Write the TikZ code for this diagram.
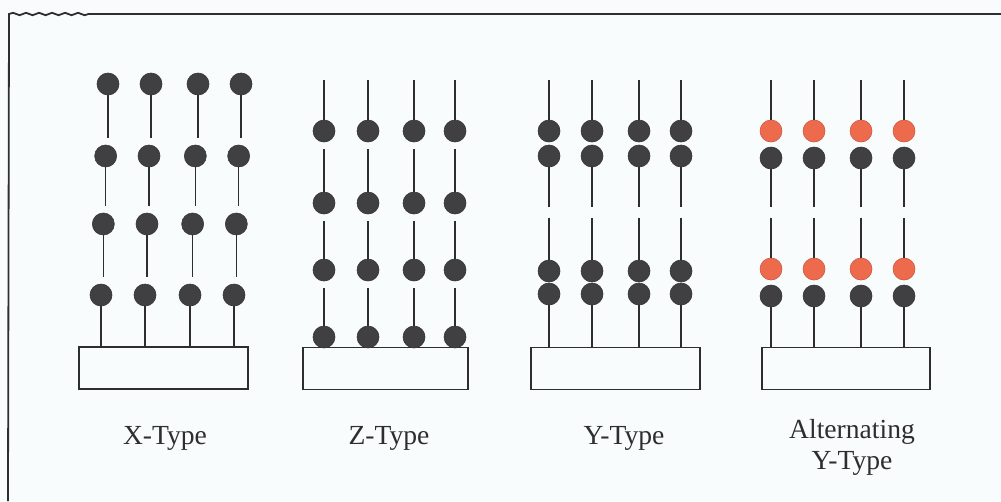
\documentclass[tikz,border=0pt]{standalone}
\usepackage{fontspec}
\setmainfont{Liberation Serif}
\usetikzlibrary{calc,decorations.pathmorphing}
\definecolor{beadgray}{HTML}{404043}
\definecolor{beadred}{HTML}{EE6A4D}
\definecolor{paper}{HTML}{F9FCFD}
\definecolor{ink}{HTML}{2E2E30}
\tikzset{
  bead/.style={circle, fill=beadgray, draw=beadgray!85!black, line width=0.6pt,
               minimum size=22pt, inner sep=0pt},
  redbead/.style={bead, fill=beadred, draw=beadred!85!black},
  substrate/.style={draw=ink, line width=1.4pt, fill=paper, inner sep=0pt,
                    minimum height=42pt},
  chain/.style={draw=ink, line width=1.3pt},
  caption/.style={font=\fontsize{27.6}{31}\selectfont, text=ink, align=center},
  framing/.style={draw=ink, line width=1.8pt}
}
\begin{document}
\begin{tikzpicture}[x=1pt,y=-1pt]
\useasboundingbox (0,0) rectangle (1001,501);
\fill[paper] (0,0) rectangle (1001,501);

% outer frame: left edge and top edge with a wavy start
\draw[framing] (8,501) -- (9,14)
  decorate[decoration={snake, amplitude=1.2pt, segment length=13pt}] { -- (92,14)}
  -- (1001,14);

% substrate blocks
\node[substrate, minimum width=169pt] (xbox) at (163.5,368) {};
\node[substrate, minimum width=165pt] (zbox) at (385.5,368.5) {};
\node[substrate, minimum width=169pt] (ybox) at (615.5,368.5) {};
\node[substrate, minimum width=168pt] (abox) at (846,368.5) {};

% X-type: bead on top of every chain segment
\foreach \c/\xt/\xb in {1/108/101, 2/151/145, 3/198/190, 4/241/234} {
  \foreach \r/\y in {1/84, 2/156, 3/224, 4/295} {
    \node[bead] (x\c\r) at ({\xt+(\xb-\xt)*(\r-1)/3}, \y) {};
  }
  \foreach \r/\n in {1/2, 2/3, 3/4} {
    \coordinate (xe\c\r) at ($(x\c\n.north)+(0,-7)$);
    \draw[chain] (x\c\r.south) -- (x\c\r.south |- xe\c\r);
  }
  \draw[chain] (x\c4.south) -- (x\c4.south |- xbox.north);
}

% Z-type: bead at the bottom of every chain segment
\foreach \c/\x in {1/324, 2/368, 3/414, 4/455} {
  \coordinate (zt\c) at (\x,80);
  \foreach \r/\y in {1/131, 2/203, 3/270, 4/337} {
    \node[bead] (z\c\r) at (\x,\y) {};
  }
  \draw[chain] (zt\c) -- (z\c1.north);
  \foreach \p/\r in {1/2, 2/3, 3/4} {
    \draw[chain] ($(z\c\p.south)+(0,7)$) -- (z\c\r.north);
  }
}

% Y-type: pairs of beads
\foreach \c/\x in {1/549, 2/592, 3/639, 4/681} {
  \coordinate (yt\c) at (\x,80);
  \coordinate (yg\c) at (\x,207);
  \coordinate (yh\c) at (\x,218);
  \node[bead] (y\c1) at (\x,131) {};
  \node[bead] (y\c2) at (\x,156) {};
  \node[bead] (y\c3) at (\x,271) {};
  \node[bead] (y\c4) at (\x,294) {};
  \draw[chain] (yt\c) -- (y\c1.north);
  \draw[chain] (y\c2.south) -- (yg\c);
  \draw[chain] (yh\c) -- (y\c3.north);
  \draw[chain] (y\c4.south) -- (y\c4.south |- ybox.north);
}

% Alternating Y-type: red bead above each gray bead
\foreach \c/\x in {1/771, 2/814, 3/861, 4/904} {
  \coordinate (at\c) at (\x,80);
  \coordinate (ag\c) at (\x,207);
  \coordinate (ah\c) at (\x,218);
  \node[redbead] (a\c1) at (\x,131) {};
  \node[bead] (a\c2) at (\x,158) {};
  \node[redbead] (a\c3) at (\x,269) {};
  \node[bead] (a\c4) at (\x,296) {};
  \draw[chain] (at\c) -- (a\c1.north);
  \draw[chain] (a\c2.south) -- (ag\c);
  \draw[chain] (ah\c) -- (a\c3.north);
  \draw[chain] (a\c4.south) -- (a\c4.south |- abox.north);
}

% captions
\node[caption, anchor=base] (xcap) at (165,444) {X-Type};
\node[caption, anchor=base] (zcap) at (389,444) {Z-Type};
\node[caption, anchor=base] (ycap) at (624,444) {Y-Type};
\node[caption, anchor=north] (acap) at (852,416) {Alternating\\Y-Type};
\end{tikzpicture}
\end{document}
